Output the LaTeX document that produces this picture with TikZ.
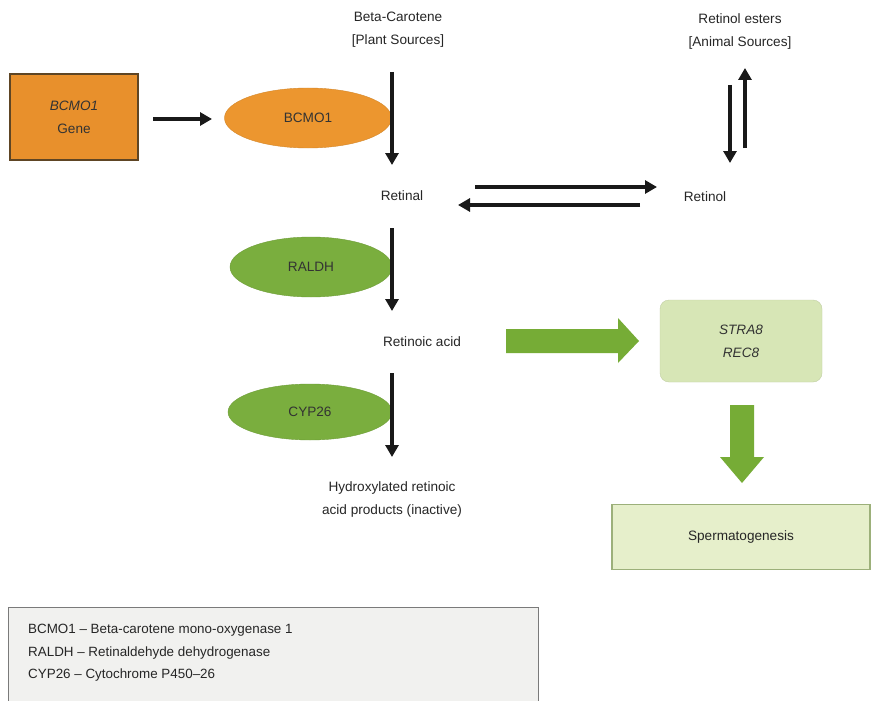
\documentclass[tikz,border=0pt]{standalone}
\usepackage{fontspec}
\setmainfont{Liberation Sans}
\usetikzlibrary{shapes.geometric,arrows.meta}
\definecolor{orgfill}{HTML}{EC962F}
\definecolor{genefill}{HTML}{E8902C}
\definecolor{geneline}{HTML}{5E4524}
\definecolor{grn}{HTML}{7AAE3E}
\definecolor{grnarrow}{HTML}{76AC36}
\definecolor{strafill}{HTML}{D7E6B6}
\definecolor{spermfill}{HTML}{E6EFCB}
\definecolor{spermline}{HTML}{9CB07A}
\definecolor{legfill}{HTML}{F1F1EF}
\definecolor{legline}{HTML}{7A7A7A}
\tikzset{
  lbl/.style={font=\fontsize{13.6}{23}\selectfont, align=center, text=black!85, inner sep=0pt},
  ell/.style={ellipse, inner sep=0pt, font=\fontsize{13.6}{16}\selectfont, text=black!80},
  arr/.style={line width=3.4pt, -{Triangle[length=12pt,width=13pt]}, black!90},
  bigarr/.style={fill=grnarrow, draw=none},
}
\begin{document}
\begin{tikzpicture}[x=1pt,y=-1pt]
\useasboundingbox (0,0) rectangle (871,701);
\clip (0,0) rectangle (871,701);
\fill[white] (0,0) rectangle (871,701);
% gene box
\node[rectangle, draw=geneline, line width=1.4pt, fill=genefill, minimum width=128pt, minimum height=86pt, font=\fontsize{13.6}{23}\selectfont, align=center, text=black!80] (gene) at (74,117) {\textit{BCMO1}\\Gene};
% ellipses
\node[ell, fill=orgfill, draw=orgfill!90!black, minimum width=167pt, minimum height=60pt] (bcmo) at (308,118) {BCMO1};
\node[ell, fill=grn, draw=grn!90!black, minimum width=162pt, minimum height=60pt] (raldh) at (311,267) {RALDH};
\node[ell, fill=grn, draw=grn!90!black, minimum width=164pt, minimum height=56pt] (cyp) at (310,412) {CYP26};
% labels
\node[lbl] (beta) at (398,30) {Beta-Carotene\\{[}Plant Sources{]}};
\node[lbl] (esters) at (740,31) {Retinol esters\\{[}Animal Sources{]}};
\node[lbl] (retinal) at (402,196) {Retinal};
\node[lbl] (retinol) at (705,197) {Retinol};
\node[lbl] (ra) at (422,342) {Retinoic acid};
\node[lbl] (hydroxy) at (392,499) {Hydroxylated retinoic\\acid products (inactive)};
% boxes
\node[rectangle, rounded corners=9pt, fill=strafill, draw=strafill!90!black, line width=0.4pt, minimum width=162pt, minimum height=82pt, font=\fontsize{13.6}{23}\selectfont, align=center, text=black!80] (stra) at (741,341) {\textit{STRA8}\\\textit{REC8}};
\node[rectangle, fill=spermfill, draw=spermline, line width=1.4pt, minimum width=258pt, minimum height=65pt, font=\fontsize{13.6}{16}\selectfont, text=black!85] (sperm) at (741,537) {Spermatogenesis};
% legend
\node[rectangle, fill=legfill, draw=legline, line width=1.2pt, minimum width=530pt, minimum height=110pt, anchor=north west, inner sep=0pt] (legend) at (8,607) {};
\node[anchor=north west, align=left, font=\fontsize{13.4}{22.5}\selectfont, text=black!85, inner sep=0pt] (legtext) at (28,624) {BCMO1 -- Beta-carotene mono-oxygenase 1\\RALDH -- Retinaldehyde dehydrogenase\\CYP26 -- Cytochrome P450--26};
% arrow end coordinates
\coordinate (g1) at (153,119); \coordinate (g2) at (212,119);
\coordinate (v1a) at (392,72);  \coordinate (v1b) at (392,165);
\coordinate (v2a) at (392,228); \coordinate (v2b) at (392,311);
\coordinate (v3a) at (392,373); \coordinate (v3b) at (392,457);
\coordinate (h1a) at (475,187); \coordinate (h1b) at (657,187);
\coordinate (h2a) at (640,205); \coordinate (h2b) at (458,205);
\coordinate (e1a) at (730,85);  \coordinate (e1b) at (730,163);
\coordinate (e2a) at (745,148); \coordinate (e2b) at (745,68);
\draw[arr] (g1) -- (g2);
\draw[arr] (v1a) -- (v1b);
\draw[arr] (v2a) -- (v2b);
\draw[arr] (v3a) -- (v3b);
\draw[arr] (h1a) -- (h1b);
\draw[arr] (h2a) -- (h2b);
\draw[arr] (e1a) -- (e1b);
\draw[arr] (e2a) -- (e2b);
% big green arrows
\fill[bigarr] (506,329) -- (618,329) -- (618,318) -- (639,341) -- (618,363) -- (618,353) -- (506,353) -- cycle;
\fill[bigarr] (730,405) -- (754,405) -- (754,457) -- (764,457) -- (742,483) -- (720,457) -- (730,457) -- cycle;
\end{tikzpicture}
\end{document}
